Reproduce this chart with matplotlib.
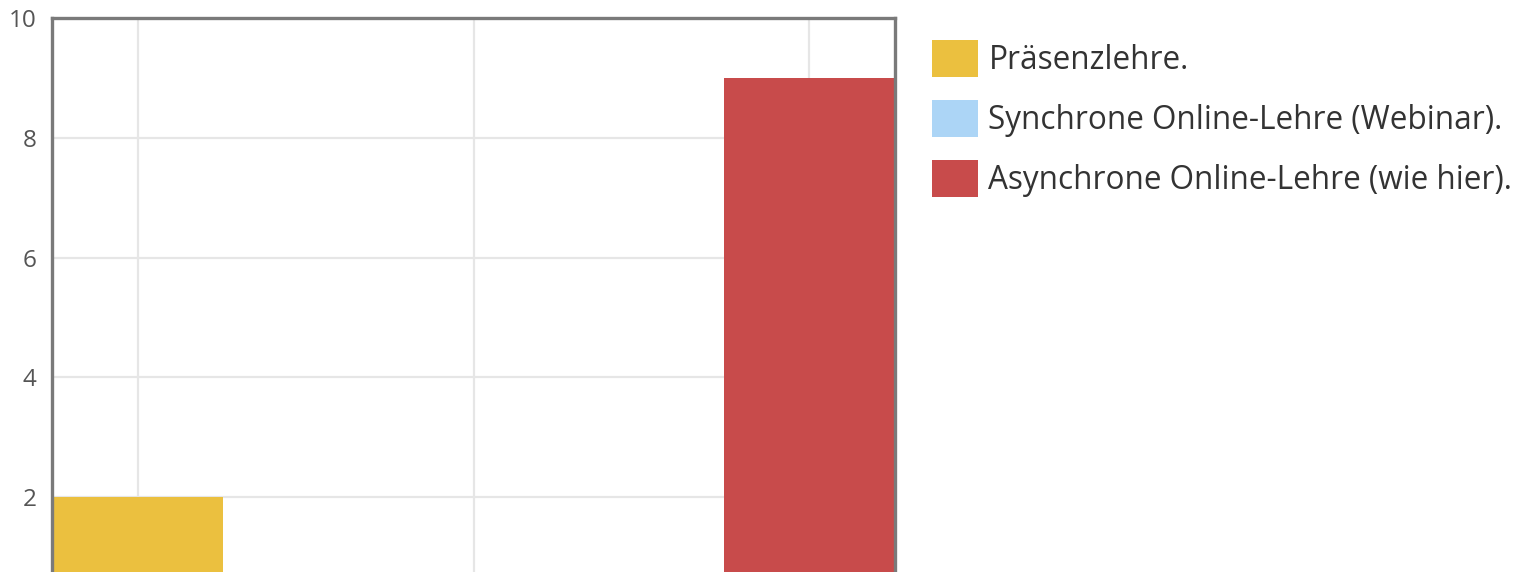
import numpy as np
import matplotlib.pyplot as plt

series = ["Präsenzlehre.", "Synchrone Online-Lehre (Webinar).", "Asynchrone Online-Lehre (wie hier)."]
values = [2, 0, 9]
colors = ["#ebc03f", "#acd5f6", "#c84b4b"]
yticks = [2, 4, 6, 8, 10]

plt.rcParams['font.family'] = ['Open Sans', 'DejaVu Sans']

fig = plt.figure(figsize=(15.17, 5.72), dpi=100)
ax = fig.add_axes([52 / 1517, 0, (895 - 52) / 1517, 1 - 18 / 572])

width = 0.51
x = np.arange(len(series))
for i, (name, v, c) in enumerate(zip(series, values, colors)):
    ax.bar(x[i], v, width=width, color=c, label=name, zorder=2)

ax.set_xlim(-width / 2, x[-1] + width / 2)
ax.set_ylim(0.75, 10)
ax.set_xticks(x)
ax.set_xticklabels([])
ax.set_yticks(yticks)
ax.set_yticklabels([str(t) for t in yticks], color="#555555", fontsize=17.5)
ax.tick_params(length=0, pad=11)
ax.grid(True, color="#e6e6e6", linewidth=1.6, zorder=0)
for side in ["left", "top", "right"]:
    ax.spines[side].set_color("#7a7a7a")
    ax.spines[side].set_linewidth(2.4)
ax.spines["bottom"].set_visible(False)

leg = ax.legend(loc="upper left", bbox_to_anchor=(932 / 1517, 1 - 40 / 572),
                bbox_transform=fig.transFigure, frameon=False, fontsize=22.7,
                handlelength=1.46, handleheight=1.42, handletextpad=0.33,
                labelspacing=0.73, borderaxespad=0, borderpad=0)
for t in leg.get_texts():
    t.set_color("#333333")

fig.savefig("out.png", dpi=100)
